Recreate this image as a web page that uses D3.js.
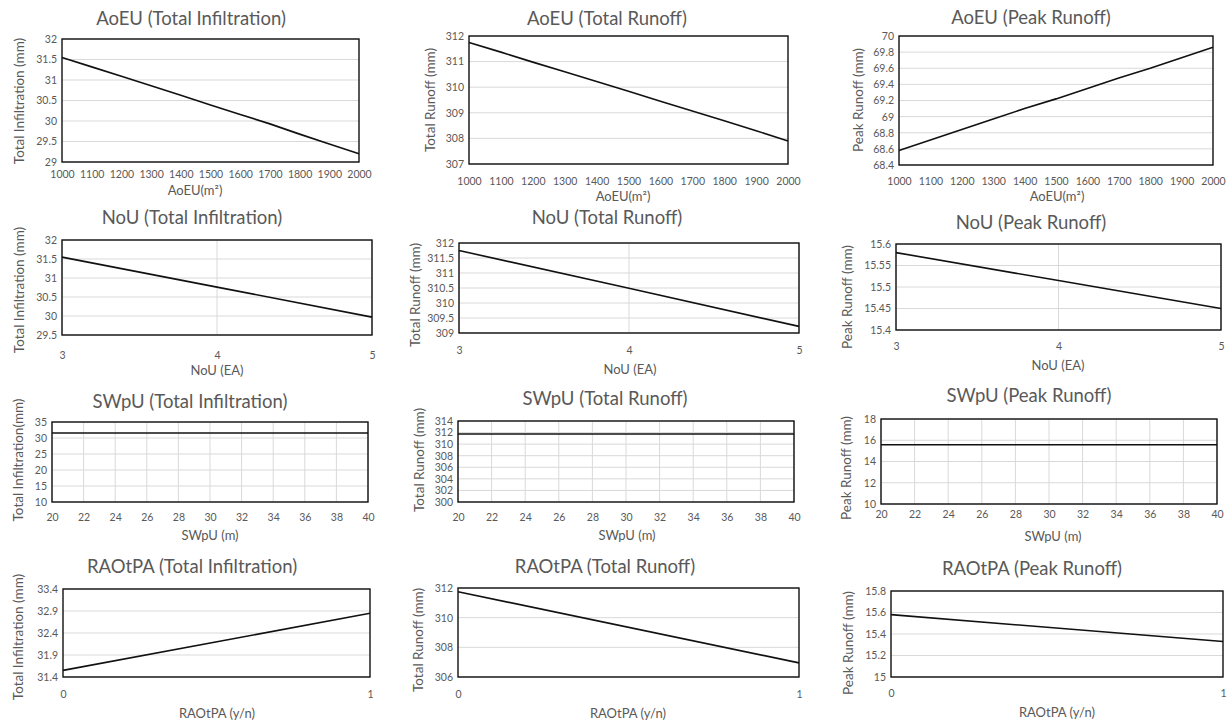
<!DOCTYPE html>
<html>
<head>
<meta charset="utf-8">
<script src="https://cdn.jsdelivr.net/npm/d3@7"></script>
<style>
  body { margin: 0; background: #fff; }
  svg { display: block; }
  text { font-family: Lato, "Open Sans", sans-serif; fill: #595959; }
</style>
</head>
<body>
<svg id="chart" width="1232" height="722"></svg>
<script>
// Data

// AoEU (m²)
const aoeuX = [1000, 1100, 1200, 1300, 1400, 1500, 1600, 1700, 1800, 1900, 2000];
const aoeuInfil = [31.55, 31.32, 31.09, 30.86, 30.63, 30.39, 30.16, 29.93, 29.68, 29.44, 29.2];
const aoeuRunoff = [311.75, 311.37, 310.98, 310.6, 310.22, 309.84, 309.45, 309.07, 308.69, 308.3, 307.9];
const aoeuPeak = [68.58, 68.71, 68.84, 68.97, 69.1, 69.22, 69.35, 69.48, 69.6, 69.73, 69.86];

// NoU (EA)
const nouX = [3, 4, 5];
const nouInfil = [31.55, 30.76, 29.97];
const nouRunoff = [311.75, 310.49, 309.22];
const nouPeak = [15.58, 15.515, 15.45];

// SWpU (m)
const swpuX = [20, 22, 24, 26, 28, 30, 32, 34, 36, 38, 40];
const swpuInfil = [31.55, 31.55, 31.55, 31.55, 31.55, 31.55, 31.55, 31.55, 31.55, 31.55, 31.55];
const swpuRunoff = [311.75, 311.75, 311.75, 311.75, 311.75, 311.75, 311.75, 311.75, 311.75, 311.75, 311.75];
const swpuPeak = [15.58, 15.58, 15.58, 15.58, 15.58, 15.58, 15.58, 15.58, 15.58, 15.58, 15.58];

// RAOtPA (y/n)
const raotpaX = [0, 1];
const raotpaInfil = [31.55, 32.85];
const raotpaRunoff = [311.75, 306.95];
const raotpaPeak = [15.58, 15.33];

// y-axis tick values
const ticksAoeuInfil = [29, 29.5, 30, 30.5, 31, 31.5, 32];
const ticksAoeuRunoff = [307, 308, 309, 310, 311, 312];
const ticksAoeuPeak = [68.4, 68.6, 68.8, 69, 69.2, 69.4, 69.6, 69.8, 70];
const ticksNouInfil = [29.5, 30, 30.5, 31, 31.5, 32];
const ticksNouRunoff = [309, 309.5, 310, 310.5, 311, 311.5, 312];
const ticksNouPeak = [15.4, 15.45, 15.5, 15.55, 15.6];
const ticksSwpuInfil = [10, 15, 20, 25, 30, 35];
const ticksSwpuRunoff = [300, 302, 304, 306, 308, 310, 312, 314];
const ticksSwpuPeak = [10, 12, 14, 16, 18];
const ticksRaotpaInfil = [31.4, 31.9, 32.4, 32.9, 33.4];
const ticksRaotpaRunoff = [306, 308, 310, 312];
const ticksRaotpaPeak = [15, 15.2, 15.4, 15.6, 15.8];

const panels = [
  { title: 'AoEU (Total Infiltration)', yLabel: 'Total Infiltration (mm)', xLabel: 'AoEU(m²)',
    x: aoeuX, y: aoeuInfil, yTicks: ticksAoeuInfil,
    box: [62, 39, 359, 162], titleAt: [191, 19], xTickY: 175, xLabelAt: [195, 190], yLabelAt: [19, 101], vGrid: false },
  { title: 'AoEU (Total Runoff)', yLabel: 'Total Runoff (mm)', xLabel: 'AoEU(m²)',
    x: aoeuX, y: aoeuRunoff, yTicks: ticksAoeuRunoff,
    box: [469, 36, 788, 164], titleAt: [607, 19], xTickY: 182, xLabelAt: [623, 196], yLabelAt: [430, 100], vGrid: false },
  { title: 'AoEU (Peak Runoff)', yLabel: 'Peak Runoff (mm)', xLabel: 'AoEU(m²)',
    x: aoeuX, y: aoeuPeak, yTicks: ticksAoeuPeak,
    box: [899, 36, 1213, 165], titleAt: [1031, 18], xTickY: 182, xLabelAt: [1057, 196], yLabelAt: [858, 100], vGrid: false },

  { title: 'NoU (Total Infiltration)', yLabel: 'Total Infiltration (mm)', xLabel: 'NoU (EA)',
    x: nouX, y: nouInfil, yTicks: ticksNouInfil,
    box: [62, 240, 372, 335], titleAt: [192, 218], xTickY: 356, xLabelAt: [217, 370], yLabelAt: [19, 290], vGrid: true },
  { title: 'NoU (Total Runoff)', yLabel: 'Total Runoff (mm)', xLabel: 'NoU (EA)',
    x: nouX, y: nouRunoff, yTicks: ticksNouRunoff,
    box: [459, 243, 799, 333], titleAt: [607, 218], xTickY: 351, xLabelAt: [630, 369], yLabelAt: [415, 295], vGrid: true },
  { title: 'NoU (Peak Runoff)', yLabel: 'Peak Runoff (mm)', xLabel: 'NoU (EA)',
    x: nouX, y: nouPeak, yTicks: ticksNouPeak,
    box: [896, 244, 1221, 330], titleAt: [1031, 223], xTickY: 347, xLabelAt: [1058, 365], yLabelAt: [847, 297], vGrid: true },

  { title: 'SWpU (Total Infiltration)', yLabel: 'Total Infiltration(mm)', xLabel: 'SWpU (m)',
    x: swpuX, y: swpuInfil, yTicks: ticksSwpuInfil,
    box: [52, 422, 368, 502], titleAt: [190, 402], xTickY: 518, xLabelAt: [210, 535], yLabelAt: [18, 460], vGrid: true },
  { title: 'SWpU (Total Runoff)', yLabel: 'Total Runoff (mm)', xLabel: 'SWpU (m)',
    x: swpuX, y: swpuRunoff, yTicks: ticksSwpuRunoff,
    box: [458, 421, 794, 502], titleAt: [605, 399], xTickY: 518, xLabelAt: [627, 535], yLabelAt: [419, 460], vGrid: true },
  { title: 'SWpU (Peak Runoff)', yLabel: 'Peak Runoff (mm)', xLabel: 'SWpU (m)',
    x: swpuX, y: swpuPeak, yTicks: ticksSwpuPeak,
    box: [881, 419, 1217, 504], titleAt: [1029, 396], xTickY: 515, xLabelAt: [1053, 536], yLabelAt: [846, 468], vGrid: true },

  { title: 'RAOtPA (Total Infiltration)', yLabel: 'Total Infiltration (mm)', xLabel: 'RAOtPA (y/n)',
    x: raotpaX, y: raotpaInfil, yTicks: ticksRaotpaInfil,
    box: [63, 589, 370, 677], titleAt: [192, 567], xTickY: 695, xLabelAt: [217, 713], yLabelAt: [18, 637], vGrid: false },
  { title: 'RAOtPA (Total Runoff)', yLabel: 'Total Runoff (mm)', xLabel: 'RAOtPA (y/n)',
    x: raotpaX, y: raotpaRunoff, yTicks: ticksRaotpaRunoff,
    box: [458, 588, 799, 677], titleAt: [605, 567], xTickY: 695, xLabelAt: [628, 713], yLabelAt: [418, 640], vGrid: false },
  { title: 'RAOtPA (Peak Runoff)', yLabel: 'Peak Runoff (mm)', xLabel: 'RAOtPA (y/n)',
    x: raotpaX, y: raotpaPeak, yTicks: ticksRaotpaPeak,
    box: [891, 591, 1223, 677], titleAt: [1032, 569], xTickY: 694, xLabelAt: [1057, 712], yLabelAt: [848, 643], vGrid: false }
];

const svg = d3.select('#chart');

function drawPanel(p) {
  const [left, top, right, bottom] = p.box;
  const g = svg.append('g').attr('class', 'panel');

  const xScale = d3.scalePoint()
    .domain(p.x)
    .range([left, right]);

  const yScale = d3.scaleLinear()
    .domain(d3.extent(p.yTicks))
    .range([bottom, top]);

  // horizontal gridlines
  g.append('g')
    .selectAll('line')
    .data(p.yTicks)
    .join('line')
    .attr('x1', left).attr('x2', right)
    .attr('y1', d => yScale(d)).attr('y2', d => yScale(d))
    .attr('stroke', '#d9d9d9').attr('stroke-width', 1);

  // vertical gridlines
  if (p.vGrid) {
    g.append('g')
      .selectAll('line')
      .data(p.x)
      .join('line')
      .attr('x1', d => xScale(d)).attr('x2', d => xScale(d))
      .attr('y1', top).attr('y2', bottom)
      .attr('stroke', '#d9d9d9').attr('stroke-width', 1);
  }

  // y tick labels
  const yAxis = d3.axisLeft(yScale).tickValues(p.yTicks).tickFormat(d => d).tickSize(0).tickPadding(5);
  const ya = g.append('g').attr('transform', `translate(${left},0)`).call(yAxis);
  ya.select('.domain').remove();
  ya.selectAll('text').attr('font-size', 10.5).attr('fill', '#595959')
    .style('font-family', 'Lato, sans-serif');

  // x tick labels
  const xAxis = d3.axisBottom(xScale).tickFormat(d => d).tickSize(0).tickPadding(0);
  const xa = g.append('g').attr('transform', `translate(0,${p.xTickY - 4})`).call(xAxis);
  xa.select('.domain').remove();
  xa.selectAll('text').attr('font-size', 10.5).attr('fill', '#595959').attr('dy', '0.32em').attr('y', 4)
    .style('font-family', 'Lato, sans-serif');

  // data line
  const line = d3.line()
    .x((d, i) => xScale(p.x[i]))
    .y(d => yScale(d));

  g.append('path')
    .datum(p.y)
    .attr('d', line)
    .attr('fill', 'none')
    .attr('stroke', '#111')
    .attr('stroke-width', 1.6);

  // plot border
  g.append('rect')
    .attr('x', left).attr('y', top)
    .attr('width', right - left).attr('height', bottom - top)
    .attr('fill', 'none')
    .attr('stroke', '#111')
    .attr('stroke-width', 1.4);

  // title
  g.append('text')
    .attr('x', p.titleAt[0]).attr('y', p.titleAt[1])
    .attr('text-anchor', 'middle').attr('dy', '0.35em')
    .attr('font-size', 18.5)
    .text(p.title);

  // x axis label
  g.append('text')
    .attr('x', p.xLabelAt[0]).attr('y', p.xLabelAt[1])
    .attr('text-anchor', 'middle').attr('dy', '0.35em')
    .attr('font-size', 13)
    .text(p.xLabel);

  // y axis label
  g.append('text')
    .attr('transform', `translate(${p.yLabelAt[0]},${p.yLabelAt[1]}) rotate(-90)`)
    .attr('text-anchor', 'middle').attr('dy', '0.35em')
    .attr('font-size', 13.5)
    .text(p.yLabel);
}

panels.forEach(drawPanel);
</script>
</body>
</html>
